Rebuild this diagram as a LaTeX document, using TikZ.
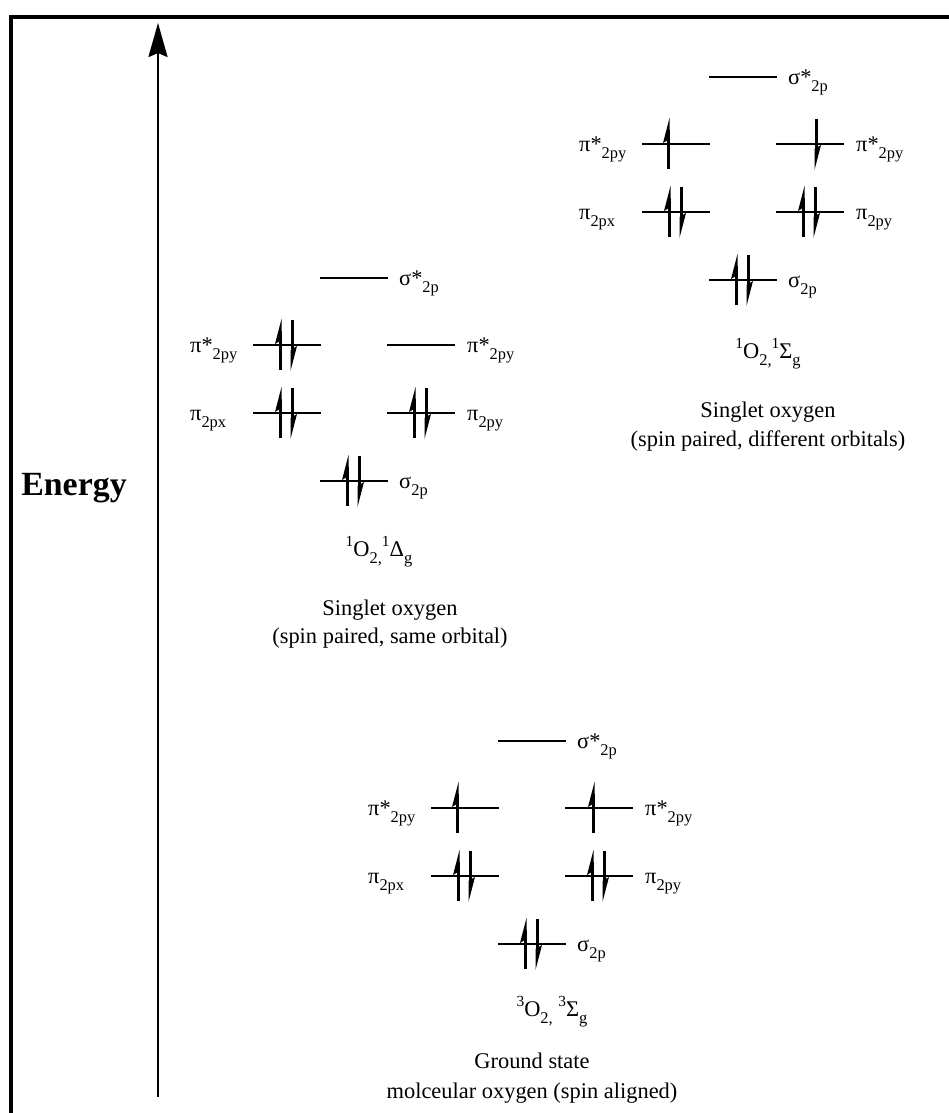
\documentclass[tikz,border=0pt]{standalone}
\usepackage{fontspec}
\setmainfont{Liberation Serif}
\usetikzlibrary{arrows.meta}
\newcommand\sbs[1]{\raisebox{-0.33em}{\fontsize{16.5}{16.5}\selectfont #1}}
\newcommand\sps[1]{\raisebox{0.42em}{\fontsize{15.5}{15.5}\selectfont #1}}
\tikzset{
  orb/.style     ={line width=2bp},
  olabel/.style  ={font=\fontsize{22.5}{27}\selectfont, inner sep=0pt, anchor=base west},
  capt/.style    ={font=\fontsize{22.5}{27}\selectfont, inner sep=0pt, anchor=base},
  energy/.style  ={font=\fontsize{34}{40}\selectfont\bfseries, inner sep=0pt, anchor=base},
  axisline/.style={line width=2.5bp, -{Stealth[length=34bp,width=19bp,inset=4bp]}},
  spinup/.pic    ={\draw[line width=3bp] (0,25) -- (0,-14);
                   \fill (1.5,-26) -- (-5,-1) -- (1.5,-5) -- cycle;},
  spindn/.pic    ={\draw[line width=3bp] (0,-25) -- (0,14);
                   \fill (-1.5,26) -- (5,1) -- (-1.5,5) -- cycle;},
}
\begin{document}
\begin{tikzpicture}[x=1bp,y=-1bp]
    \useasboundingbox (0,0) rectangle (949,1113);
    % frame and energy axis
    \draw[line width=3.5bp] (11,1125) -- (11,17) -- (960,17);
    \coordinate (ebot) at (158,1097);
    \coordinate (etop) at (158,23);
    \draw[axisline] (ebot) -- (etop);
    \node[energy] (elabel) at (74,495) {Energy};
    % --- singlet, different orbitals ---
    \begin{scope}[shift={(743,77)}, name prefix=sg-]
      \foreach \xo/\yo in {0/0,-67/67,67/67,-67/135,67/135,0/203}
          \draw[orb] (\xo-34,\yo) -- (\xo+34,\yo);
      \node[olabel] (ss) at (45,7)     {σ*\sbs{2p}};
      \node[olabel] (pl) at (-164,74)  {π*\sbs{2py}};
      \node[olabel] (pr) at (113,74)   {π*\sbs{2py}};
      \node[olabel] (ql) at (-164,142) {π\sbs{2px}};
      \node[olabel] (qr) at (113,142)  {π\sbs{2py}};
      \node[olabel] (s)  at (45,210)   {σ\sbs{2p}};
      % electrons
      \pic at (-75,67) {spinup}; \pic at (73,67) {spindn};
      \foreach \xo/\yo in {-67/135,67/135,0/203}
          {\pic at (\xo-7,\yo) {spinup}; \pic at (\xo+5,\yo) {spindn};}
      \node[capt] (term) at (25,281) {\sps{1}O\sbs{2,}\sps{1}Σ\sbs{g}};
      \node[capt] (cap1) at (25,340) {Singlet oxygen};
      \node[capt] (cap2) at (25,369) {(spin paired, different orbitals)};
    \end{scope}
    % --- singlet, same orbital ---
    \begin{scope}[shift={(354,278)}, name prefix=dg-]
      \foreach \xo/\yo in {0/0,-67/67,67/67,-67/135,67/135,0/203}
          \draw[orb] (\xo-34,\yo) -- (\xo+34,\yo);
      \node[olabel] (ss) at (45,7)     {σ*\sbs{2p}};
      \node[olabel] (pl) at (-164,74)  {π*\sbs{2py}};
      \node[olabel] (pr) at (113,74)   {π*\sbs{2py}};
      \node[olabel] (ql) at (-164,142) {π\sbs{2px}};
      \node[olabel] (qr) at (113,142)  {π\sbs{2py}};
      \node[olabel] (s)  at (45,210)   {σ\sbs{2p}};
      % electrons
      \foreach \xo/\yo in {-67/67,-67/135,67/135,0/203}
          {\pic at (\xo-7,\yo) {spinup}; \pic at (\xo+5,\yo) {spindn};}
      \node[capt] (term) at (25,278) {\sps{1}O\sbs{2,}\sps{1}Δ\sbs{g}};
      \node[capt] (cap1) at (36,337) {Singlet oxygen};
      \node[capt] (cap2) at (36,365) {(spin paired, same orbital)};
    \end{scope}
    % --- triplet ground state ---
    \begin{scope}[shift={(532,741)}, name prefix=tg-]
      \foreach \xo/\yo in {0/0,-67/67,67/67,-67/135,67/135,0/203}
          \draw[orb] (\xo-34,\yo) -- (\xo+34,\yo);
      \node[olabel] (ss) at (45,7)     {σ*\sbs{2p}};
      \node[olabel] (pl) at (-164,74)  {π*\sbs{2py}};
      \node[olabel] (pr) at (113,74)   {π*\sbs{2py}};
      \node[olabel] (ql) at (-164,142) {π\sbs{2px}};
      \node[olabel] (qr) at (113,142)  {π\sbs{2py}};
      \node[olabel] (s)  at (45,210)   {σ\sbs{2p}};
      % electrons
      \pic at (-75,67) {spinup}; \pic at (61,67) {spinup};
      \foreach \xo/\yo in {-67/135,67/135,0/203}
          {\pic at (\xo-7,\yo) {spinup}; \pic at (\xo+5,\yo) {spindn};}
      \node[capt] (term) at (20,275) {\sps{3}O\sbs{2,} \sps{3}Σ\sbs{g}};
      \node[capt] (cap1) at (0,327) {Ground state};
      \node[capt] (cap2) at (0,357) {molceular oxygen (spin aligned)};
    \end{scope}
  \end{tikzpicture}
\end{document}
